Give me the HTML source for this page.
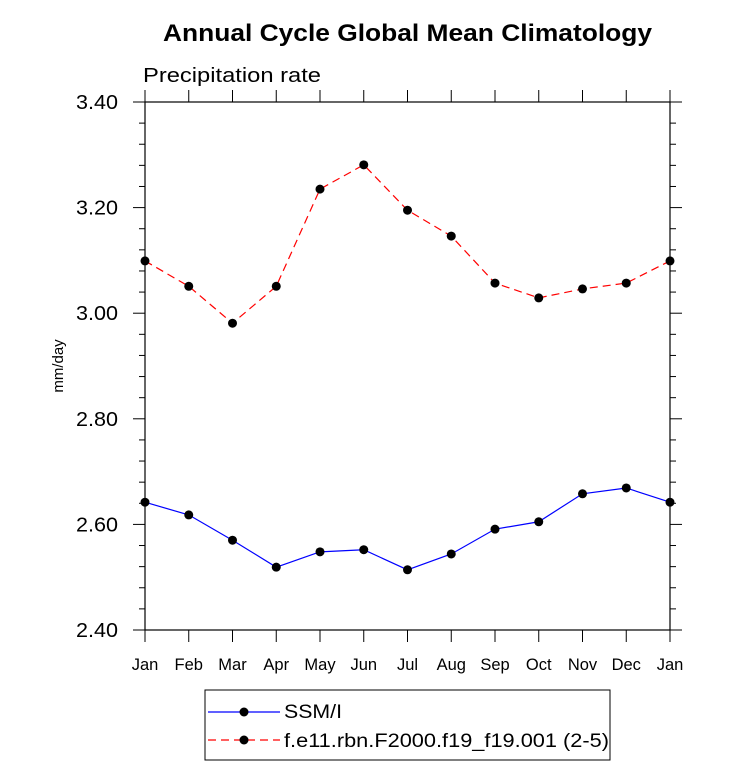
<!DOCTYPE html>
<html><head><meta charset="utf-8"><style>
body{margin:0;background:#fff;}
svg{display:block;font-family:"Liberation Sans",sans-serif;}
</style></head><body>
<svg id="c" width="733" height="782">
<text x="163" y="41" font-size="24" font-weight="bold" textLength="489" lengthAdjust="spacingAndGlyphs">Annual Cycle Global Mean Climatology</text>
<text x="143" y="82" font-size="20" textLength="178" lengthAdjust="spacingAndGlyphs">Precipitation rate</text>
<text transform="translate(63,366) rotate(-90)" text-anchor="middle" font-size="15">mm/day</text>
<g id="axes"></g>
<g id="series"></g>
<g>
<rect x="205" y="690" width="405" height="70" fill="none" stroke="#000" stroke-width="1"/>
<g>
<line x1="208" y1="712" x2="280" y2="712" stroke="#00f" stroke-width="1.2"/>
<circle cx="244" cy="712" r="4.5" fill="#000"/>
<text x="284" y="718" font-size="19" textLength="58" lengthAdjust="spacingAndGlyphs">SSM/I</text></g>
<g>
<line x1="208" y1="740" x2="280" y2="740" stroke="#f00" stroke-width="1.2" stroke-dasharray="8,5"/>
<circle cx="244" cy="740" r="4.5" fill="#000"/>
<text x="284" y="747" font-size="19" textLength="325" lengthAdjust="spacingAndGlyphs">f.e11.rbn.F2000.f19_f19.001 (2-5)</text></g>
</g>
</svg>
<script>
const months=["Jan","Feb","Mar","Apr","May","Jun","Jul","Aug","Sep","Oct","Nov","Dec","Jan"];
const yTicks=[2.40,2.60,2.80,3.00,3.20,3.40];
const ssmi=[2.642,2.618,2.570,2.519,2.548,2.552,2.514,2.544,2.591,2.605,2.658,2.669,2.642];
const model=[3.099,3.051,2.981,3.051,3.235,3.281,3.195,3.146,3.057,3.029,3.046,3.057,3.099];
const L=145,R=670,T=102,B=630,ymin=2.4,ymax=3.4;
const xs=i=>L+(R-L)*i/(months.length-1);
const ys=v=>B-(v-ymin)/(ymax-ymin)*(B-T);
const NS="http://www.w3.org/2000/svg";
function mk(tag,attrs,parent){const e=document.createElementNS(NS,tag);for(const k in attrs)e.setAttribute(k,attrs[k]);parent.appendChild(e);return e;}
const ax=document.getElementById('axes');
const frame=mk('rect',{x:L,y:T,width:R-L,height:B-T,fill:'none',stroke:'#000','stroke-width':1.2},ax);


for(let k=0;k<=25;k++){
  const v=ymin+k*0.04;const y=ys(v);const len=(k%5===0)?12:6;
  mk('line',{x1:L-len,y1:y,x2:L,y2:y,stroke:'#000'},ax);
  mk('line',{x1:R,y1:y,x2:R+len,y2:y,stroke:'#000'},ax);
}
yTicks.forEach(v=>{const t=mk('text',{x:118,y:ys(v)+7,'text-anchor':'end','font-size':20,textLength:42,lengthAdjust:'spacingAndGlyphs'},ax);t.textContent=v.toFixed(2);

});
months.forEach((m,i)=>{const x=xs(i);
  mk('line',{x1:x,y1:B,x2:x,y2:B+12,stroke:'#000'},ax);
  mk('line',{x1:x,y1:T-12,x2:x,y2:T,stroke:'#000'},ax);
  const t=mk('text',{x:x,y:670,'text-anchor':'middle','font-size':16.5},ax);t.textContent=m;
  
  
});
const sg=document.getElementById('series');
function draw(vals,color,dash,name){
  const g=mk('g',{},sg);
  
  
  const pts=vals.map((v,i)=>xs(i)+','+ys(v)).join(' ');
  const a={points:pts,fill:'none',stroke:color,'stroke-width':1.2};if(dash)a['stroke-dasharray']=dash;
  mk('polyline',a,g);
  vals.forEach((v,i)=>{const c=mk('circle',{cx:xs(i),cy:ys(v),r:4.5,fill:'#000'},g);
    
    });
}
draw(ssmi,'#00f',null,'ssmi-series');
draw(model,'#f00','8,5','model-series');
</script>
</body></html>
